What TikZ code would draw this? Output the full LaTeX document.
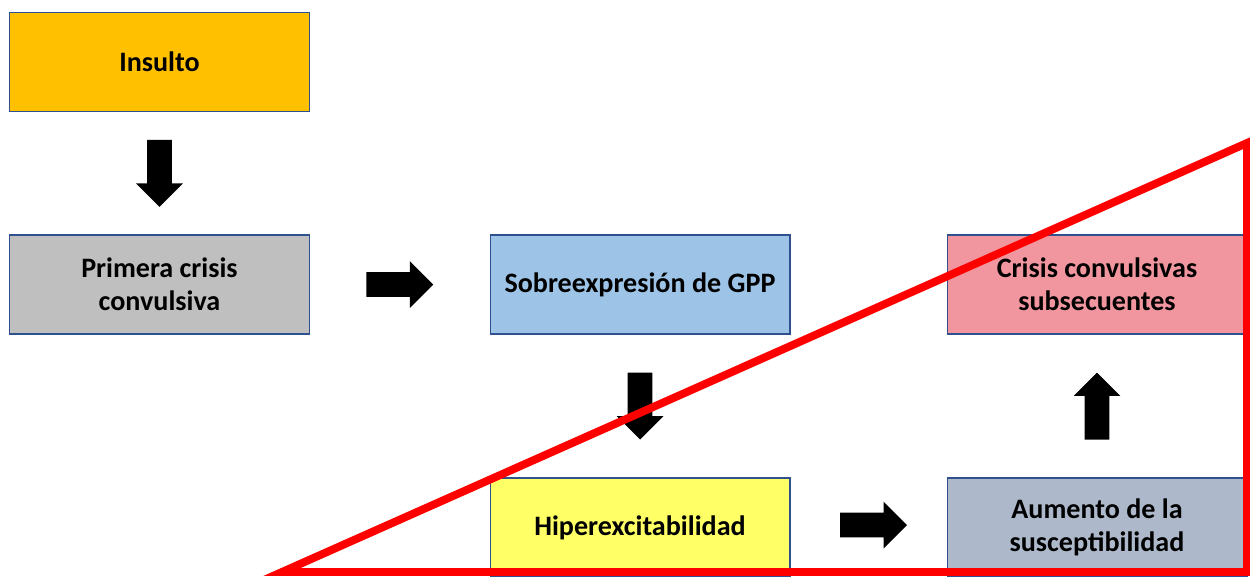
\documentclass[tikz,border=0pt]{standalone}
\usepackage{fontspec}
\setmainfont{Carlito}
\usepackage{tikz}
\usetikzlibrary{calc}
\usetikzlibrary{shapes.arrows,positioning}

\definecolor{bordeazul}{HTML}{2F528F}
\definecolor{naranja}{HTML}{FFC000}
\definecolor{gris}{HTML}{BFBFBF}
\definecolor{celeste}{HTML}{9DC3E6}
\definecolor{amarillo}{HTML}{FFFF66}
\definecolor{rosa}{HTML}{F1969F}
\definecolor{grisazul}{HTML}{ADB9CA}
\definecolor{rojo}{HTML}{FF0000}

\tikzset{
  caja/.style={draw=bordeazul, line width=0.6pt, minimum width=6cm, minimum height=1.98cm,
    align=center, inner sep=0pt, font=\bfseries\fontsize{16}{19}\selectfont},
  flecha/.style={single arrow, fill=black, draw=none, inner xsep=0pt, inner ysep=0.24cm,
    outer sep=0pt, anchor=tail, minimum height=1.34cm, minimum width=0.92cm,
    single arrow head extend=0.22cm}
}

\begin{document}
\begin{tikzpicture}[x=0.02cm,y=-0.02cm]

\def \colA{159.5}
\def \colB{640}
\def \colC{1097}
\def \filA{62}
\def \filB{284.5}
\def \filC{527.5}

\def \medio{0.67cm}
\def \grueso{4.5pt}

\useasboundingbox (0,0) rectangle (1250,576);

\node[caja, fill=naranja] (insulto) at (\colA,\filA) {Insulto};
\node[caja, fill=gris] (primera) at (\colA,\filB) {Primera crisis\\convulsiva};
\node[caja, fill=celeste] (sobre) at (\colB,\filB) {Sobreexpresión de GPP};
\node[caja, fill=amarillo] (hiper) at (\colB,\filC) {Hiperexcitabilidad};
\node[caja, fill=grisazul] (aumento) at (\colC,\filC) {Aumento de la\\susceptibilidad};
\node[caja, fill=rosa] (crisis) at (\colC,\filB) {Crisis convulsivas\\subsecuentes};

% puntos medios entre cajas
\coordinate (m1) at ($(insulto.south)!0.5!(primera.north)$);
\coordinate (m2) at ($(primera.east)!0.5!(sobre.west)$);
\coordinate (m3) at ($(sobre.south)!0.5!(hiper.north)$);
\coordinate (m4) at ($(hiper.east)!0.5!(aumento.west)+(5,-2.5)$);
\coordinate (m5) at ($(aumento.north)!0.5!(crisis.south)$);

\node[flecha, rotate=-90] (f1) at ($(m1)!\medio!(insulto.south)$) {};
\node[flecha] (f2) at ($(m2)+(-33.5,0)$) {};
\node[flecha, rotate=-90] (f3) at ($(m3)!\medio!(sobre.south)$) {};
\node[flecha] (f4) at ($(m4)+(-33.5,0)$) {};
\node[flecha, rotate=90] (f5) at ($(m5)!\medio!(aumento.north)$) {};

% triangulo rojo
\coordinate (t1) at (282,572);
\coordinate (t2) at (1247,143);
\coordinate (t3) at (1247,572);
\draw[rojo, line width=\grueso, line join=miter] (t1) -- (t2) -- (t3) -- cycle;

\end{tikzpicture}
\end{document}
